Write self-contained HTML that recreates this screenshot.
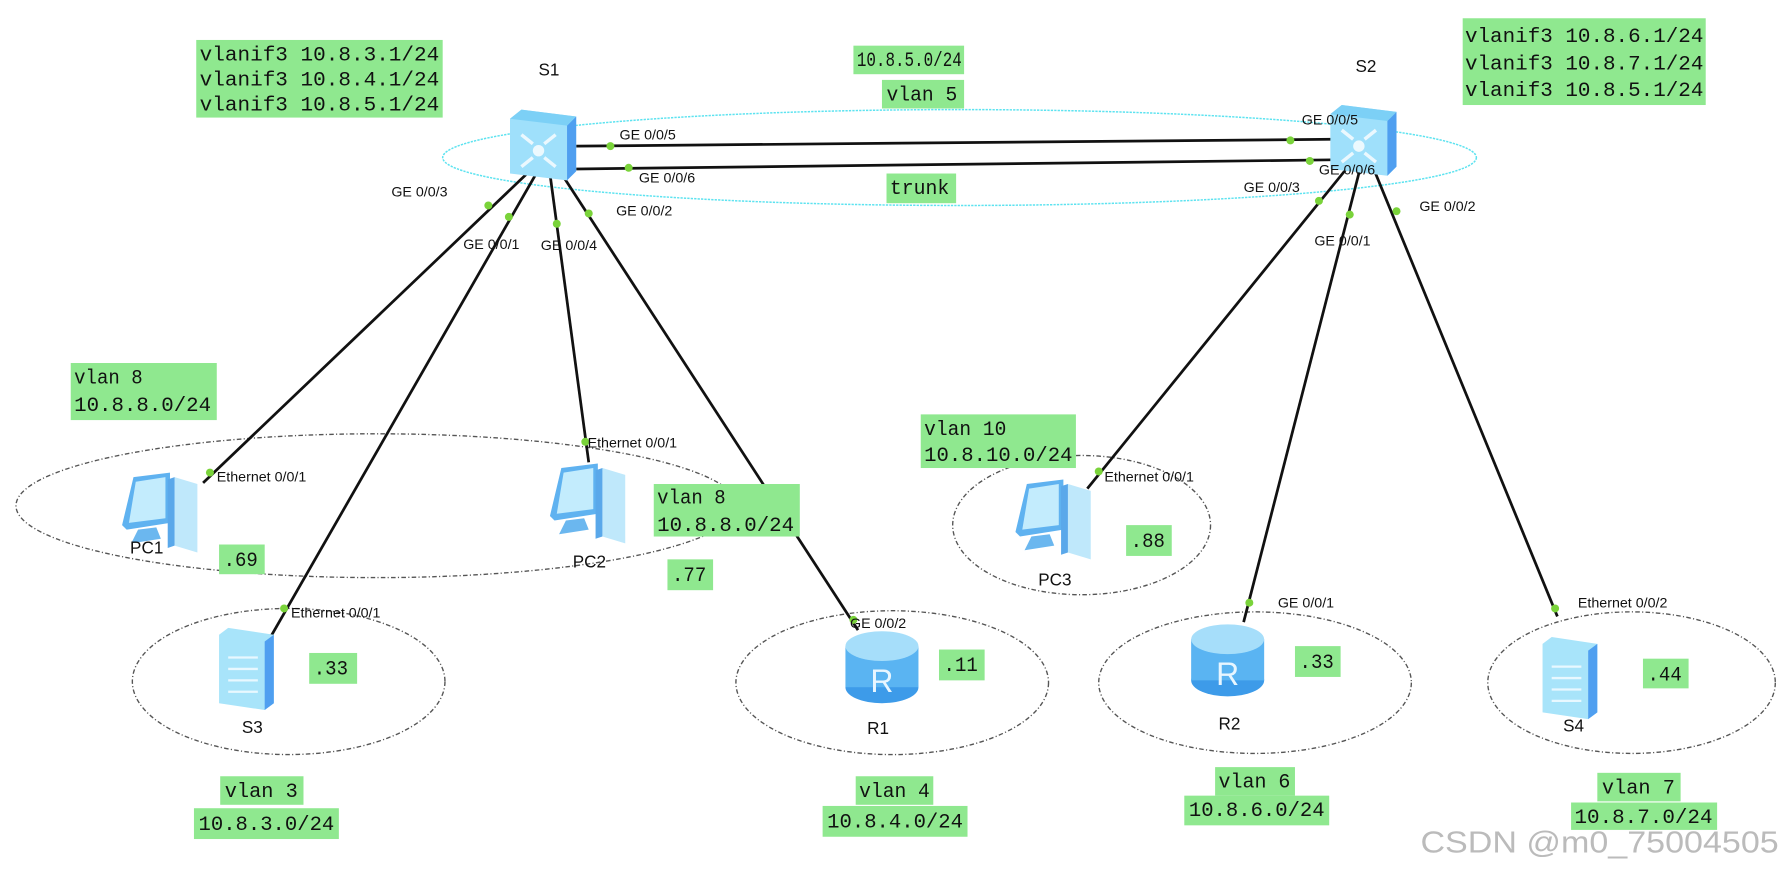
<!DOCTYPE html>
<html><head><meta charset="utf-8"><style>
html,body{margin:0;padding:0;background:#fff;}
svg{display:block}
.m{font-family:"Liberation Mono",monospace;font-size:17.5px;fill:#111}
.p{font-family:"Liberation Sans",sans-serif;font-size:12.5px;fill:#111}
.n{font-family:"Liberation Sans",sans-serif;font-size:15px;fill:#111}
.g{fill:#8fe88f}
.l{stroke:#111;stroke-width:2.4;fill:none}
.d{fill:#7ad33a}
.e{fill:none;stroke:#555;stroke-width:1.2;stroke-dasharray:4 2 1 2}
</style></head><body>
<svg width="1789" height="871" viewBox="0 0 1568 763" preserveAspectRatio="none" xmlns="http://www.w3.org/2000/svg">
<defs>
<g id="sw">
<path d="M0,8 L10,0 L58,6 L58,54 L50,62 L0,56 Z" fill="#9fe0fb"/>
<path d="M50,14 L58,6 L58,54 L50,62 Z" fill="#4f9ff0"/>
<path d="M0,8 L10,0 L58,6 L50,14 Z" fill="#7cd0f6"/>
<circle cx="25" cy="36" r="5" fill="#fff" opacity="0.8"/>
<path d="M10,22 L20,30 M40,22 L30,30 M10,50 L20,42 M40,50 L30,42" stroke="#fff" stroke-width="3" opacity="0.8"/>
</g>
<g id="l2">
<path d="M0,6 L8,0 L48,6 L48,66 L40,72 L0,66 Z" fill="#a8e4fa"/>
<path d="M40,12 L48,6 L48,66 L40,72 Z" fill="#4f9ff0"/>
<path d="M8,26 L34,26 M8,36 L34,36 M8,46 L34,46 M8,56 L34,56" stroke="#e8f8ff" stroke-width="2"/>
</g>
<g id="rt">
<ellipse cx="32" cy="50" rx="32" ry="14" fill="#3d9be9"/>
<rect x="0" y="14" width="64" height="36" fill="#5ab4f2"/>
<ellipse cx="32" cy="14" rx="32" ry="13" fill="#a6defa"/>
<text x="32" y="54" text-anchor="middle" font-family="Liberation Sans,sans-serif" font-size="28" fill="#e8f6ff">R</text>
</g>
<g id="pc">
<path d="M10,4 L42,0 L42,44 L4,50 L0,46 Z" fill="#5fb2f0"/>
<path d="M12,8 L38,4 L38,40 L6,44 Z" fill="#c3ecfd"/>
<path d="M14,50 L30,48 L34,58 L8,62 Z" fill="#6bb7ef"/>
<path d="M46,4 L66,10 L66,70 L46,64 Z" fill="#bfe8fb"/>
<path d="M40,6 L46,4 L46,64 L40,66 Z" fill="#5aa8ea"/>
</g>
</defs>

<ellipse cx="841" cy="138" rx="453" ry="42" fill="none" stroke="#5de3f0" stroke-width="1.3" stroke-dasharray="2 1"/>

<ellipse class="e" cx="330" cy="443" rx="316" ry="63"/>
<ellipse class="e" cx="253" cy="597" rx="137" ry="64"/>
<ellipse class="e" cx="948" cy="460" rx="113" ry="61"/>
<ellipse class="e" cx="782" cy="598" rx="137" ry="63"/>
<ellipse class="e" cx="1100" cy="598" rx="137" ry="62"/>
<ellipse class="e" cx="1430" cy="598" rx="126" ry="62"/>

<line class="l" x1="505" y1="128" x2="1168" y2="122"/>
<line class="l" x1="505" y1="148" x2="1168" y2="140"/>

<line class="l" x1="462" y1="152" x2="178" y2="423"/>
<line class="l" x1="470" y1="152" x2="236" y2="560"/>
<line class="l" x1="482" y1="152" x2="516" y2="405"/>
<line class="l" x1="492" y1="152" x2="752" y2="552"/>
<line class="l" x1="1180" y1="148" x2="953" y2="428"/>
<line class="l" x1="1192" y1="148" x2="1090" y2="545"/>
<line class="l" x1="1204" y1="148" x2="1365" y2="540"/>

<g class="d">
<circle cx="535" cy="128" r="3.5"/><circle cx="551" cy="147" r="3.5"/>
<circle cx="1131" cy="123" r="3.5"/><circle cx="1148" cy="141" r="3.5"/>
<circle cx="428" cy="180" r="3.5"/><circle cx="446" cy="190" r="3.5"/>
<circle cx="488" cy="196" r="3.5"/><circle cx="516" cy="187" r="3.5"/>
<circle cx="1156" cy="176" r="3.5"/><circle cx="1183" cy="188" r="3.5"/><circle cx="1224" cy="185" r="3.5"/>
<circle cx="184" cy="414" r="3.5"/><circle cx="249" cy="533" r="3.5"/>
<circle cx="513" cy="387" r="3.5"/><circle cx="748" cy="543" r="3.5"/>
<circle cx="963" cy="413" r="3.5"/><circle cx="1095" cy="528" r="3.5"/><circle cx="1363" cy="533" r="3.5"/>
</g>

<use href="#sw" x="447" y="96"/>
<use href="#sw" x="1166" y="92"/>
<use href="#pc" x="107" y="414"/>
<use href="#pc" x="482" y="406"/>
<use href="#pc" x="890" y="420"/>
<use href="#l2" x="192" y="550"/>
<use href="#l2" x="1352" y="558"/>
<use href="#rt" x="741" y="552"/>
<use href="#rt" x="1044" y="546"/>

<text class="n" x="472" y="66">S1</text>
<text class="n" x="1188" y="63">S2</text>
<text class="n" x="114" y="485">PC1</text>
<text class="n" x="502" y="497">PC2</text>
<text class="n" x="910" y="513">PC3</text>
<text class="n" x="212" y="642">S3</text>
<text class="n" x="760" y="643">R1</text>
<text class="n" x="1068" y="639">R2</text>
<text class="n" x="1370" y="641">S4</text>

<text class="p" x="543" y="122">GE 0/0/5</text>
<text class="p" x="560" y="160">GE 0/0/6</text>
<text class="p" x="1141" y="109">GE 0/0/5</text>
<text class="p" x="1156" y="153">GE 0/0/6</text>
<text class="p" x="343" y="172">GE 0/0/3</text>
<text class="p" x="406" y="218">GE 0/0/1</text>
<text class="p" x="474" y="219">GE 0/0/4</text>
<text class="p" x="540" y="189">GE 0/0/2</text>
<text class="p" x="1090" y="168">GE 0/0/3</text>
<text class="p" x="1152" y="215">GE 0/0/1</text>
<text class="p" x="1244" y="185">GE 0/0/2</text>
<text class="p" x="190" y="422">Ethernet 0/0/1</text>
<text class="p" x="515" y="392">Ethernet 0/0/1</text>
<text class="p" x="255" y="541">Ethernet 0/0/1</text>
<text class="p" x="745" y="550">GE 0/0/2</text>
<text class="p" x="968" y="422">Ethernet 0/0/1</text>
<text class="p" x="1120" y="532">GE 0/0/1</text>
<text class="p" x="1383" y="532">Ethernet 0/0/2</text>

<rect class="g" x="172" y="35" width="216" height="68"/>
<text class="m" x="175" y="53" textLength="210" lengthAdjust="spacingAndGlyphs">vlanif3 10.8.3.1/24</text>
<text class="m" x="175" y="75" textLength="210" lengthAdjust="spacingAndGlyphs">vlanif3 10.8.4.1/24</text>
<text class="m" x="175" y="97" textLength="210" lengthAdjust="spacingAndGlyphs">vlanif3 10.8.5.1/24</text>

<rect class="g" x="1282" y="16" width="213" height="76"/>
<text class="m" x="1284" y="37" textLength="209" lengthAdjust="spacingAndGlyphs">vlanif3 10.8.6.1/24</text>
<text class="m" x="1284" y="61" textLength="209" lengthAdjust="spacingAndGlyphs">vlanif3 10.8.7.1/24</text>
<text class="m" x="1284" y="84" textLength="209" lengthAdjust="spacingAndGlyphs">vlanif3 10.8.5.1/24</text>

<rect class="g" x="748" y="40" width="97" height="25"/><text class="m" x="751" y="58" textLength="92" lengthAdjust="spacingAndGlyphs">10.8.5.0/24</text>
<rect class="g" x="773" y="70" width="72" height="25"/><text class="m" x="777" y="88" textLength="62" lengthAdjust="spacingAndGlyphs">vlan 5</text>
<rect class="g" x="777" y="152" width="61" height="26"/><text class="m" x="780" y="170" textLength="52" lengthAdjust="spacingAndGlyphs">trunk</text>

<rect class="g" x="62" y="318" width="128" height="50"/>
<text class="m" x="65" y="336" textLength="60" lengthAdjust="spacingAndGlyphs">vlan 8</text><text class="m" x="65" y="360" textLength="120" lengthAdjust="spacingAndGlyphs">10.8.8.0/24</text>
<rect class="g" x="573" y="424" width="128" height="46"/>
<text class="m" x="576" y="441" textLength="60" lengthAdjust="spacingAndGlyphs">vlan 8</text><text class="m" x="576" y="465" textLength="120" lengthAdjust="spacingAndGlyphs">10.8.8.0/24</text>
<rect class="g" x="807" y="363" width="136" height="47"/>
<text class="m" x="810" y="381" textLength="72" lengthAdjust="spacingAndGlyphs">vlan 10</text><text class="m" x="810" y="404" textLength="130" lengthAdjust="spacingAndGlyphs">10.8.10.0/24</text>

<rect class="g" x="192" y="477" width="40" height="26"/><text class="m" x="196" y="496" textLength="30" lengthAdjust="spacingAndGlyphs">.69</text>
<rect class="g" x="585" y="490" width="40" height="27"/><text class="m" x="589" y="509" textLength="30" lengthAdjust="spacingAndGlyphs">.77</text>
<rect class="g" x="987" y="460" width="40" height="27"/><text class="m" x="991" y="479" textLength="30" lengthAdjust="spacingAndGlyphs">.88</text>
<rect class="g" x="271" y="572" width="42" height="27"/><text class="m" x="275" y="591" textLength="30" lengthAdjust="spacingAndGlyphs">.33</text>
<rect class="g" x="823" y="569" width="40" height="27"/><text class="m" x="827" y="588" textLength="30" lengthAdjust="spacingAndGlyphs">.11</text>
<rect class="g" x="1135" y="566" width="40" height="27"/><text class="m" x="1139" y="585" textLength="30" lengthAdjust="spacingAndGlyphs">.33</text>
<rect class="g" x="1440" y="577" width="40" height="26"/><text class="m" x="1444" y="596" textLength="30" lengthAdjust="spacingAndGlyphs">.44</text>

<rect class="g" x="193" y="680" width="73" height="25"/><text class="m" x="197" y="698" textLength="64" lengthAdjust="spacingAndGlyphs">vlan 3</text>
<rect class="g" x="170" y="708" width="127" height="27"/><text class="m" x="174" y="727" textLength="119" lengthAdjust="spacingAndGlyphs">10.8.3.0/24</text>
<rect class="g" x="750" y="680" width="68" height="25"/><text class="m" x="753" y="698" textLength="62" lengthAdjust="spacingAndGlyphs">vlan 4</text>
<rect class="g" x="721" y="706" width="127" height="27"/><text class="m" x="725" y="725" textLength="119" lengthAdjust="spacingAndGlyphs">10.8.4.0/24</text>
<rect class="g" x="1065" y="672" width="70" height="25"/><text class="m" x="1068" y="690" textLength="63" lengthAdjust="spacingAndGlyphs">vlan 6</text>
<rect class="g" x="1038" y="697" width="127" height="26"/><text class="m" x="1042" y="715" textLength="119" lengthAdjust="spacingAndGlyphs">10.8.6.0/24</text>
<rect class="g" x="1400" y="677" width="73" height="25"/><text class="m" x="1404" y="695" textLength="64" lengthAdjust="spacingAndGlyphs">vlan 7</text>
<rect class="g" x="1377" y="703" width="128" height="24"/><text class="m" x="1380" y="721" textLength="121" lengthAdjust="spacingAndGlyphs">10.8.7.0/24</text>

<text x="1245" y="747" font-family="Liberation Sans,sans-serif" font-size="27" fill="#bbb" textLength="314" lengthAdjust="spacingAndGlyphs">CSDN @m0_75004505</text>
</svg>
</body></html>
